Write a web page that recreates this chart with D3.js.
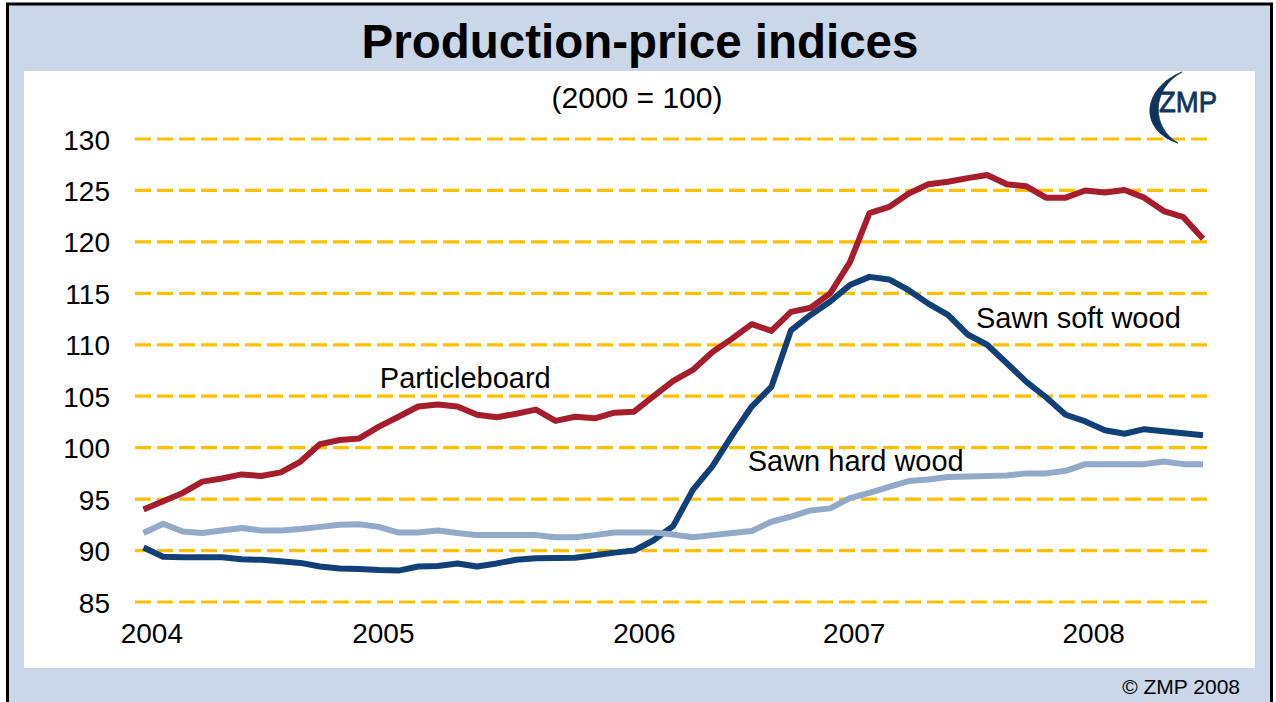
<!DOCTYPE html>
<html><head><meta charset="utf-8">
<script src="https://cdn.jsdelivr.net/npm/d3@7"></script>
<style>html,body{margin:0;padding:0;background:#fff;}svg{display:block;}</style>
</head><body>
<svg id="chart" width="1276" height="702"></svg>
<script>
// ---- data (monthly, Jan 2004 – Jul 2008) ----
const months = d3.range(55); // month index 0 = Jan 2004
const particleboard = [94.0,94.8,95.6,96.7,97.0,97.4,97.25,97.6,98.65,100.35,100.75,100.9,102.05,103.0,104.0,104.2,104.0,103.2,102.95,103.3,103.7,102.6,103.0,102.85,103.4,103.5,105.0,106.5,107.55,109.3,110.6,112.0,111.35,113.2,113.6,115.0,118.0,122.8,123.4,124.7,125.6,125.85,126.2,126.5,125.6,125.4,124.3,124.3,125.0,124.8,125.05,124.3,123.0,122.4,120.3];
const sawnSoft = [90.3,89.4,89.35,89.35,89.35,89.15,89.1,88.95,88.8,88.45,88.25,88.2,88.1,88.05,88.45,88.5,88.75,88.45,88.75,89.1,89.25,89.28,89.3,89.55,89.8,90.0,91.0,92.4,95.9,98.2,101.2,104.0,105.9,111.4,112.9,114.2,115.8,116.6,116.35,115.3,114.0,112.9,111.0,110.0,108.2,106.4,104.9,103.2,102.55,101.7,101.35,101.8,101.6,101.4,101.2];
const sawnHard = [91.7,92.6,91.85,91.7,91.95,92.2,91.95,91.95,92.1,92.3,92.5,92.55,92.3,91.75,91.75,91.95,91.7,91.5,91.5,91.5,91.5,91.3,91.3,91.5,91.75,91.75,91.75,91.55,91.3,91.5,91.7,91.9,92.8,93.3,93.9,94.1,95.1,95.6,96.2,96.75,96.9,97.15,97.2,97.25,97.3,97.5,97.5,97.75,98.4,98.4,98.4,98.4,98.65,98.4,98.4];
const yTicks = [85,90,95,100,105,110,115,120,125,130];
const yearLabels = ["2004","2005","2006","2007","2008"];
const yearLabelPos = [0.4, 12.2, 25.5, 36.2, 48.4]; // month index where each label is centred
const seriesNames = ["Particleboard","Sawn soft wood","Sawn hard wood"];
const seriesLabelPos = [[16.4,106.8],[47.65,112.6],[36.3,98.7]]; // [month index (centre), value]

// ---- layout ----
const svg = d3.select("#chart");
const font = "Liberation Sans, Arial, Helvetica, sans-serif";

svg.append("rect").attr("x",7.5).attr("y",4).attr("width",1264).attr("height",720)
  .attr("fill","#cad7e9").attr("stroke","#000").attr("stroke-width",3);
svg.append("rect").attr("x",24).attr("y",71).attr("width",1231).attr("height",597).attr("fill","#fff");

svg.append("text").attr("x",640).attr("y",58).attr("text-anchor","middle")
  .attr("font-family",font).attr("font-weight","bold").attr("font-size",47.5).attr("fill","#000")
  .text("Production-price indices");
svg.append("text").attr("x",637).attr("y",108).attr("text-anchor","middle")
  .attr("font-family",font).attr("font-size",30).attr("fill","#000")
  .text("(2000 = 100)");

const x = d3.scaleLinear().domain([0,54]).range([143.5,1203]);
const y = d3.scaleLinear().domain([85,130]).range([602,139]);
const gx0 = 135, gx1 = 1213;

// gridlines
svg.append("g").selectAll("line").data(yTicks).join("line")
  .attr("x1",gx0).attr("x2",gx1).attr("y1",d=>y(d)).attr("y2",d=>y(d))
  .attr("stroke","#ffc000").attr("stroke-width",3.2).attr("stroke-dasharray","16,6");

// y axis labels
const yAxis = d3.axisLeft(y).tickValues(yTicks).tickSize(0).tickPadding(0);
const yg = svg.append("g").attr("transform","translate(110,0)").call(yAxis);
yg.select(".domain").remove();
yg.selectAll("text").attr("font-family",font).attr("font-size",28).attr("fill","#000").attr("dy","0.36em");

// x axis labels
const xAxis = d3.axisBottom(x).tickValues(yearLabelPos).tickFormat((d,i)=>yearLabels[i]).tickSize(0).tickPadding(0);
const xg = svg.append("g").attr("transform","translate(0,623)").call(xAxis);
xg.select(".domain").remove();
xg.selectAll("text").attr("font-family",font).attr("font-size",28).attr("fill","#000").attr("dy","0.71em");

// lines
const line = d3.line().x((d,i)=>x(months[i])).y(d=>y(d));
const series = [
  {vals: sawnSoft, color:"#114078"},
  {vals: sawnHard, color:"#93a9c9"},
  {vals: particleboard, color:"#a61e2d"}
];
svg.append("g").selectAll("path").data(series).join("path")
  .attr("d",d=>line(d.vals)).attr("fill","none").attr("stroke",d=>d.color)
  .attr("stroke-width",6).attr("stroke-linejoin","round").attr("stroke-linecap","butt");

// series labels
svg.append("g").selectAll("text").data(seriesNames).join("text")
  .attr("x",(d,i)=>x(seriesLabelPos[i][0])).attr("y",(d,i)=>y(seriesLabelPos[i][1]))
  .attr("text-anchor","middle").attr("dy","0.36em")
  .attr("font-family",font).attr("font-size",29).attr("fill","#000").text(d=>d);

// logo
const logo = svg.append("g");
logo.append("path")
  .attr("d","M1182,72 C1142,88 1138,130 1178,143 C1152,128 1150,90 1182,72 Z")
  .attr("fill","#0f355f").attr("stroke","#0f355f").attr("stroke-width",0.8);
logo.append("path")
  .attr("d","M1176,75 C1152,92 1150,124 1168,139")
  .attr("fill","none").attr("stroke","#0f355f").attr("stroke-width",1.2);
logo.append("text").attr("x",1188).attr("y",112).attr("text-anchor","middle")
  .attr("font-family",font).attr("font-size",30).attr("fill","#0f355f")
  .attr("stroke","#0f355f").attr("stroke-width",0.8)
  .attr("textLength",58).attr("lengthAdjust","spacingAndGlyphs").text("ZMP");

// copyright
svg.append("text").attr("x",1240).attr("y",694).attr("text-anchor","end")
  .attr("font-family",font).attr("font-size",21).attr("fill","#000").text("© ZMP 2008");
</script>
</body></html>
